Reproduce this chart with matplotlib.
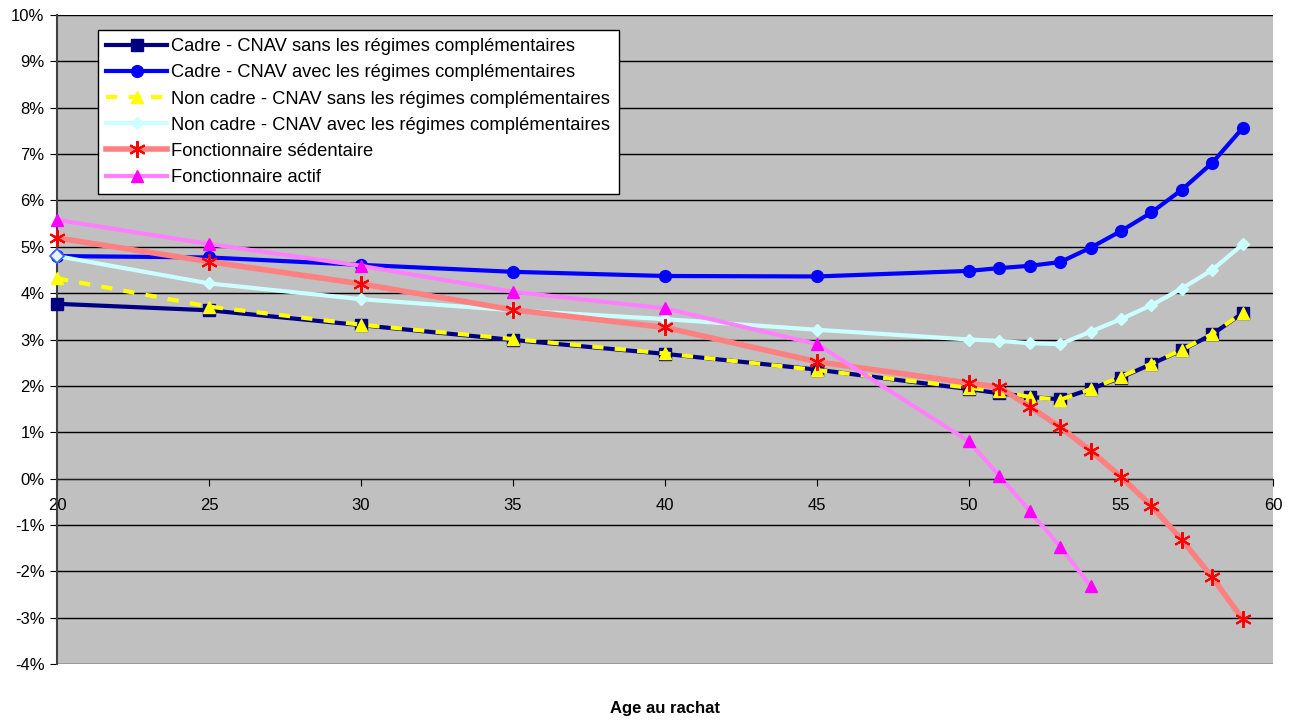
import matplotlib
matplotlib.use("Agg")
import matplotlib.pyplot as plt
from matplotlib.ticker import FuncFormatter, MultipleLocator

plt.rcParams['font.family'] = ['Liberation Sans', 'DejaVu Sans']

ages = [20, 25, 30, 35, 40, 45, 50, 51, 52, 53, 54, 55, 56, 57, 58, 59]
ages_actif = [20, 25, 30, 35, 40, 45, 50, 51, 52, 53, 54]

cadre_sans = [3.77, 3.63, 3.31, 2.99, 2.69, 2.35, 1.93, 1.84, 1.76, 1.71, 1.93, 2.18, 2.47, 2.77, 3.11, 3.57]
cadre_avec = [4.80, 4.77, 4.61, 4.46, 4.37, 4.36, 4.48, 4.54, 4.59, 4.67, 4.98, 5.34, 5.74, 6.23, 6.81, 7.56]
non_cadre_sans = [4.32, 3.71, 3.32, 3.01, 2.70, 2.34, 1.96, 1.88, 1.76, 1.70, 1.93, 2.20, 2.48, 2.78, 3.12, 3.58]
non_cadre_avec = [4.80, 4.21, 3.87, 3.63, 3.44, 3.21, 3.00, 2.97, 2.92, 2.90, 3.17, 3.44, 3.74, 4.10, 4.50, 5.05]
fonct_sedentaire = [5.19, 4.68, 4.20, 3.64, 3.26, 2.52, 2.06, 1.97, 1.55, 1.11, 0.60, 0.04, -0.59, -1.32, -2.13, -3.03]
fonct_actif = [5.58, 5.06, 4.59, 4.03, 3.67, 2.90, 0.80, 0.06, -0.70, -1.47, -2.32]

labels = [
    "Cadre - CNAV sans les régimes complémentaires",
    "Cadre - CNAV avec les régimes complémentaires",
    "Non cadre - CNAV sans les régimes complémentaires",
    "Non cadre - CNAV avec les régimes complémentaires",
    "Fonctionnaire sédentaire",
    "Fonctionnaire actif",
]
xlabel = "Age au rachat"

fig = plt.figure(figsize=(12.93, 7.20), dpi=100)
ax = fig.add_axes([57 / 1293, 1 - 664 / 720, (1273 - 57) / 1293, (664 - 15) / 720])
ax.set_facecolor('#C0C0C0')

common = dict(clip_on=False)
ax.plot(ages, cadre_sans, color='#000080', lw=3, marker='s', ms=8,
        mfc='#000080', mec='#000080', label=labels[0], zorder=3, **common)
ax.plot(ages, cadre_avec, color='#0000FF', lw=3, marker='o', ms=8.5,
        mfc='#0000FF', mec='#0000FF', label=labels[1], zorder=4, **common)
ax.plot(ages, non_cadre_sans, color='#FFFF00', lw=3, ls=(0, (2.7, 2.7)), marker='^', ms=9,
        mfc='#FFFF00', mec='#FFFF00', label=labels[2], zorder=5, **common)
ax.plot(ages, non_cadre_avec, color='#CCFFFF', lw=3, marker='D', ms=6,
        mfc='#CCFFFF', mec='#CCFFFF', label=labels[3], zorder=6, **common)
ax.plot(ages[:1], non_cadre_avec[:1], ls='none', marker='D', ms=7,
        mfc='#E8F4FF', mec='#3366FF', mew=1.2, zorder=6.5, **common)
ax.plot(ages, fonct_sedentaire, color='#FF8080', lw=4, marker=(6, 2, 0), ms=12,
        mfc='#FF0000', mec='#FF0000', mew=1.5, label=labels[4], zorder=7, **common)
ax.plot(ages_actif, fonct_actif, color='#FF80FF', lw=3, marker='^', ms=9,
        mfc='#FF00FF', mec='#FF00FF', label=labels[5], zorder=8, **common)

ax.set_xlim(20, 60)
ax.set_ylim(-4, 10)
ax.yaxis.set_major_locator(MultipleLocator(1))
ax.xaxis.set_major_locator(MultipleLocator(5))
ax.yaxis.set_major_formatter(FuncFormatter(lambda v, p: f"{v:.0f}%"))
ax.grid(axis='y', color='black', lw=1)
ax.set_axisbelow(True)

for s in ['top', 'right']:
    ax.spines[s].set_visible(False)
ax.spines['bottom'].set_position(('data', 0))
ax.spines['bottom'].set_color('#202020')
ax.spines['left'].set_color('#404040')
ax.spines['left'].set_linewidth(1.5)

ax.tick_params(axis='y', direction='out', length=5, labelsize=12, pad=4, colors='black')
ax.tick_params(axis='x', direction='out', length=5, labelsize=12, pad=9)

ax.text(0.5, -44 / 649, xlabel, transform=ax.transAxes, ha='center', va='center',
        fontsize=12, fontweight='bold')

leg = ax.legend(loc='upper left', bbox_to_anchor=(41 / 1216, 1 - 15 / 649), fontsize=13.2,
                frameon=True, fancybox=False, edgecolor='black', framealpha=1,
                handlelength=3.3, handletextpad=0.25, labelspacing=0.5, borderpad=0.45,
                borderaxespad=0)
leg.get_frame().set_linewidth(1)
leg.set_zorder(20)

fig.savefig('out.png', dpi=100, facecolor='white')
